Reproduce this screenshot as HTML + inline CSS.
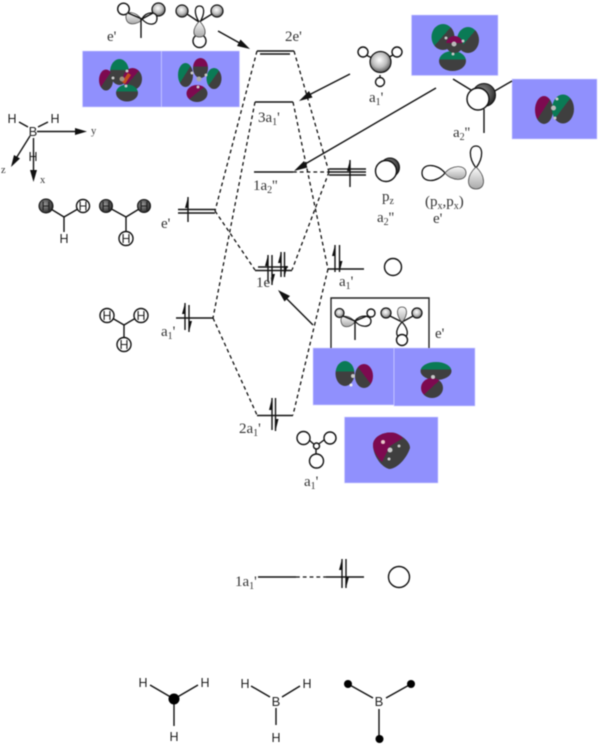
<!DOCTYPE html>
<html>
<head>
<meta charset="utf-8">
<style>
html,body{margin:0;padding:0;background:#fff;width:600px;height:746px;overflow:hidden}
svg{display:block;filter:blur(.4px)}
text{font-family:"Liberation Serif",serif;font-size:15px;fill:#333}
.s{font-family:"Liberation Sans",sans-serif;font-size:12.5px;fill:#222;text-anchor:middle}
.b{font-family:"Liberation Sans",sans-serif;font-size:13px;fill:#222;text-anchor:middle}
.a{font-size:10.500px}
.sub{font-size:10px}
line,path.l{stroke:#111;stroke-width:1.400;fill:none}
.d{stroke-dasharray:3.800 3;stroke-width:1.300}
.c{fill:#fff;stroke:#111;stroke-width:1.400}
.g{fill:url(#sph);stroke:#111;stroke-width:1.200}
.k{fill:url(#dk);stroke:#111;stroke-width:1}
.bx{fill:#9090fd;stroke:#d4d4ff;stroke-width:.6}
.lw{fill:#fff;stroke:#111;stroke-width:1.300}
.lg{fill:url(#lobe);stroke:#444;stroke-width:.8}
.at{fill:#c9c9c9}
</style>
</head>
<body>
<svg width="600" height="746" viewBox="0 0 600 746" xmlns="http://www.w3.org/2000/svg">
<defs>
<radialGradient id="sph" cx=".45" cy=".4" r=".65"><stop offset="0" stop-color="#fff"/><stop offset=".55" stop-color="#bbb"/><stop offset="1" stop-color="#444"/></radialGradient>
<radialGradient id="dk" cx=".4" cy=".4" r=".7"><stop offset="0" stop-color="#999"/><stop offset=".7" stop-color="#444"/><stop offset="1" stop-color="#111"/></radialGradient>
<linearGradient id="lobe" x1="0" y1="0" x2="0" y2="1"><stop offset="0" stop-color="#fbfbfb"/><stop offset="1" stop-color="#a8a8a8"/></linearGradient>
<linearGradient id="gT" x1="0" y1="0" x2="0" y2="1"><stop offset=".42" stop-color="#0a7a55"/><stop offset=".42" stop-color="#3f3f3f"/></linearGradient>
<linearGradient id="pT" x1="0" y1="0" x2="0" y2="1"><stop offset=".42" stop-color="#7d0a50"/><stop offset=".42" stop-color="#3f3f3f"/></linearGradient>
<linearGradient id="gTL" x1="0" y1="0" x2="1" y2="1"><stop offset=".48" stop-color="#0a7a55"/><stop offset=".48" stop-color="#3f3f3f"/></linearGradient>
<linearGradient id="pTL" x1="0" y1="0" x2="1" y2="1"><stop offset=".48" stop-color="#7d0a50"/><stop offset=".48" stop-color="#3f3f3f"/></linearGradient>
<linearGradient id="pTR" x1="1" y1="0" x2="0" y2="1"><stop offset=".48" stop-color="#7d0a50"/><stop offset=".48" stop-color="#3f3f3f"/></linearGradient>
</defs>

<!-- blue boxes -->
<rect class="bx" x="82.5" y="51" width="79" height="56"/>
<rect class="bx" x="161.5" y="51" width="78" height="56"/>
<rect class="bx" x="411.5" y="15" width="86.5" height="60.5"/>
<rect class="bx" x="512" y="79" width="85" height="60"/>
<rect class="bx" x="313" y="348" width="81" height="57"/>
<rect class="bx" x="394" y="348" width="81" height="58"/>
<rect class="bx" x="344.5" y="417" width="93.5" height="66"/>

<!-- box 1 lobes -->
<ellipse cx="119.500" cy="72" rx="9.500" ry="13" fill="url(#gT)"/>
<ellipse cx="106" cy="80" rx="7" ry="10.500" fill="url(#pTL)"/>
<ellipse cx="132.500" cy="79" rx="9.500" ry="11" fill="url(#pTL)"/>
<ellipse cx="127" cy="93" rx="11" ry="8.500" fill="url(#gT)"/>
<path d="M122 82l6-9 3 2-6 9z" fill="#c2501e"/>
<circle cx="113" cy="78" r="1.500" class="at"/><circle cx="127" cy="71" r="1.500" class="at"/><circle cx="126" cy="86" r="1.500" class="at"/><circle cx="122" cy="79" r="2.500" fill="#a09080"/>
<!-- box 2 lobes -->
<ellipse cx="200.500" cy="68" rx="7.500" ry="10" fill="url(#pT)"/>
<ellipse cx="185.500" cy="75" rx="7.500" ry="12" fill="url(#gTL)"/>
<ellipse cx="214" cy="78.500" rx="7.500" ry="10.500" fill="url(#gTL)"/>
<ellipse cx="197" cy="93.500" rx="10.500" ry="8.500" fill="url(#pTL)"/>
<circle cx="192" cy="73" r="1.500" class="at"/><circle cx="206" cy="75" r="1.500" class="at"/><circle cx="198" cy="87" r="1.500" class="at"/><circle cx="199" cy="79" r="2.500" fill="#aaa"/>
<!-- top right box lobes -->
<ellipse cx="443" cy="37" rx="11.500" ry="13" fill="url(#gTL)"/>
<ellipse cx="468" cy="40" rx="11" ry="13" fill="url(#gTL)"/>
<ellipse cx="452.500" cy="61" rx="13.500" ry="10" fill="url(#gT)"/>
<ellipse cx="454.500" cy="44.500" rx="8.500" ry="8.500" fill="url(#pT)"/>
<circle cx="446" cy="38" r="1.500" class="at"/><circle cx="463" cy="41" r="1.500" class="at"/><circle cx="453" cy="54" r="1.500" class="at"/><circle cx="454" cy="44" r="2.500" fill="#bbb"/>
<!-- right box lobes -->
<ellipse cx="544" cy="110" rx="9" ry="14" fill="url(#pTL)"/>
<ellipse cx="563" cy="109" rx="11" ry="14.500" fill="url(#gTL)"/>
<circle cx="553.500" cy="108" r="2.500" fill="#bbb"/><circle cx="555" cy="118" r="1.500" class="at"/><circle cx="557" cy="99" r="1.500" class="at"/>
<!-- box lower left -->
<ellipse cx="345" cy="373.500" rx="9.500" ry="12.500" fill="url(#gT)"/>
<ellipse cx="364" cy="376" rx="9" ry="12" fill="url(#pTR)"/>
<circle cx="353" cy="376" r="2" class="at"/><circle cx="351" cy="385" r="1.500" fill="#eee"/>
<!-- box lower right -->
<ellipse cx="436" cy="371" rx="15.500" ry="9" fill="url(#gT)"/>
<ellipse cx="432" cy="388" rx="11" ry="10" fill="url(#pTL)"/>
<circle cx="433" cy="377" r="2" class="at"/>
<!-- a1 box -->
<path d="M373 445C373 436 385 431 395 433C403 436 410 442 410 448C407 458 397 469 389 469C381 467 373 455 373 445Z" fill="#3f3f3f"/>
<path d="M373 445C373 436 385 431 395 433C398 434 401 436 403 438L390 446L382 462C376 456 373 450 373 445Z" fill="#7d0a50"/>
<circle cx="390" cy="450" r="2.500" class="at"/><circle cx="383" cy="442" r="2" fill="#e8c8c8"/><circle cx="389" cy="459" r="1.500" class="at"/><circle cx="399" cy="446" r="1.500" class="at"/>

<!-- dashed connections -->
<line class="d" x1="257" y1="51" x2="215" y2="211"/>
<line class="d" x1="255" y1="102" x2="213" y2="318"/>
<line class="d" x1="215" y1="211" x2="255" y2="270"/>
<line class="d" x1="213" y1="318" x2="257" y2="415"/>
<line class="d" x1="294" y1="51" x2="329" y2="172"/>
<line class="d" x1="293" y1="102" x2="328" y2="269"/>
<line class="d" x1="293" y1="172" x2="329" y2="172"/>
<line class="d" x1="329" y1="172" x2="292" y2="270"/>
<line class="d" x1="328" y1="269" x2="293" y2="415"/>
<line class="d" x1="296" y1="577" x2="326" y2="577"/>

<!-- levels -->
<line x1="257" y1="51" x2="294" y2="51"/><line x1="260" y1="54" x2="290" y2="54"/>
<line x1="255" y1="102" x2="293" y2="102"/>
<line x1="254" y1="172" x2="293" y2="172"/>
<line x1="329" y1="169" x2="366" y2="169"/><line x1="329" y1="172" x2="366" y2="172"/><line x1="329" y1="175" x2="366" y2="175"/>
<line x1="178" y1="209.500" x2="215" y2="209.500"/><line x1="178" y1="213" x2="215" y2="213"/>
<line x1="255" y1="270.500" x2="292" y2="270.500"/><line x1="258" y1="267" x2="288" y2="267"/>
<line x1="328" y1="269" x2="364" y2="269"/>
<line x1="176" y1="318" x2="213" y2="318"/>
<line x1="257" y1="415.500" x2="293" y2="415.500"/>
<line x1="258" y1="577" x2="296" y2="577"/><line x1="326" y1="577" x2="364" y2="577"/>

<!-- spin arrows -->
<g>
<line x1="188" y1="197" x2="188" y2="222"/><path d="M188 197l-3 11h3z" fill="#111"/>
<line x1="350" y1="160" x2="350" y2="187"/><path d="M350 160l-3 11h3z" fill="#111"/>
<line x1="268" y1="255" x2="268" y2="282"/><path d="M268 255l-3 11h3z" fill="#111"/>
<line x1="272" y1="255" x2="272" y2="285"/><path d="M272 285l3-11h-3z" fill="#111"/>
<line x1="281" y1="252" x2="281" y2="277"/><path d="M281 252l-3 11h3z" fill="#111"/>
<line x1="284.500" y1="252" x2="284.500" y2="277"/><path d="M284.500 277l3-11h-3z" fill="#111"/>
<line x1="185" y1="303" x2="185" y2="330"/><path d="M185 303l-3 11h3z" fill="#111"/>
<line x1="189" y1="305" x2="189" y2="332"/><path d="M189 332l3-11h-3z" fill="#111"/>
<line x1="272" y1="398" x2="272" y2="430"/><path d="M272 398l-3 12h3z" fill="#111"/>
<line x1="275.500" y1="398" x2="275.500" y2="431"/><path d="M275.500 431l3-12h-3z" fill="#111"/>
<line x1="335" y1="245" x2="335" y2="272"/><path d="M335 245l-3 11h3z" fill="#111"/>
<line x1="339.500" y1="245" x2="339.500" y2="272"/><path d="M339.500 272l3-11h-3z" fill="#111"/>
<line x1="342" y1="559" x2="342" y2="588"/><path d="M342 559l-3 11h3z" fill="#111"/>
<line x1="346" y1="559" x2="346" y2="588"/><path d="M346 588l3-11h-3z" fill="#111"/>
</g>

<!-- big arrows -->
<line x1="218" y1="31" x2="245" y2="46"/><path d="M250 49l-13-3 3.500-6.500z" fill="#111"/>
<line x1="350" y1="74" x2="305" y2="97"/><path d="M299 101l10-10 3.500 6.500z" fill="#111"/>
<line x1="436" y1="88" x2="300" y2="167"/><path d="M294 171l10-10 3.500 6.500z" fill="#111"/>
<line x1="313" y1="325" x2="283" y2="295"/><path d="M278 290l12 6-5.500 5.500z" fill="#111"/>

<!-- top-left orbitals -->
<circle class="c" cx="123.500" cy="9" r="5.800"/>
<circle class="g" cx="158.500" cy="9.500" r="6.500"/>
<path class="lw" d="M142 19C146 11 157 11 157 18C157 26 148 26 142 19Z"/>
<path class="lg" d="M142 20C136 11 125 10 126 18C127 26 136 25 142 20Z"/>
<line x1="128" y1="13" x2="142" y2="19"/><line x1="153" y1="13" x2="142" y2="19"/><line x1="141" y1="19" x2="141" y2="38"/>
<circle class="g" cx="182" cy="11" r="6"/><circle class="g" cx="217" cy="11" r="6"/>
<circle class="c" cx="199.500" cy="41" r="6.500"/>
<line x1="187" y1="14" x2="199" y2="22"/><line x1="212" y1="14" x2="199" y2="22"/>
<path class="lw" d="M199.500 23C193 12 195 6 199.500 6C204 6 206 12 199.500 23Z"/>
<path class="lg" d="M199.500 21C207 29 207 37 199.500 37C192 37 192 29 199.500 21Z"/>
<text x="107" y="41">e'</text>
<text x="285" y="41">2e'</text>

<!-- a1' top-right orbital -->
<line x1="366" y1="55" x2="380" y2="62"/><line x1="393" y1="55" x2="380" y2="62"/><line x1="380" y1="75" x2="380" y2="78"/>
<circle class="c" cx="363" cy="52" r="5"/><circle class="c" cx="397" cy="52" r="5"/><circle class="c" cx="380" cy="82" r="4.500"/>
<circle class="g" cx="380.500" cy="62" r="10.500"/>
<text x="369" y="102">a<tspan class="sub" dy="3">1</tspan><tspan dy="-3">'</tspan></text>

<!-- a2'' right orbital -->
<line x1="453" y1="79" x2="471" y2="90"/><line x1="512" y1="81" x2="493" y2="92"/><line x1="484" y1="109" x2="484" y2="133"/>
<circle cx="484" cy="95" r="11.500" fill="url(#dk)" stroke="#111"/>
<circle class="c" cx="478" cy="99" r="11"/>
<text x="453" y="137">a<tspan class="sub" dy="3">2</tspan><tspan dy="-3">''</tspan></text>

<!-- pz and px -->
<circle cx="390" cy="167.500" r="9.500" fill="url(#dk)" stroke="#111"/>
<circle class="c" cx="386" cy="171" r="10.500"/>
<path class="lw" d="M445 173C437 163 422 163 422 173C422 183 437 183 445 173Z"/>
<path class="lg" d="M445 173C451 165 466 164 466 173C466 182 451 181 445 173Z"/>
<path class="lw" d="M476 168C468 157 469 146 476 146C483 146 484 157 476 168Z"/>
<path class="lg" d="M476 167C486 176 486 189 476 189C466 189 466 176 476 167Z"/>
<text x="382" y="201">p<tspan class="sub" dy="3">z</tspan></text>
<text x="377" y="222">a<tspan class="sub" dy="3">2</tspan><tspan dy="-3">''</tspan></text>
<text x="425" y="206">(p<tspan class="sub" dy="3">x</tspan><tspan dy="-3">,p</tspan><tspan class="sub" dy="3">x</tspan><tspan dy="-3">)</tspan></text>
<text x="433" y="223">e'</text>

<!-- level labels -->
<text x="258" y="122">3a<tspan class="sub" dy="3">1</tspan><tspan dy="-3">'</tspan></text>
<text x="253" y="190">1a<tspan class="sub" dy="3">2</tspan><tspan dy="-3">''</tspan></text>
<text x="161" y="228">e'</text>
<text x="256" y="287">1e'</text>
<text x="161" y="336">a<tspan class="sub" dy="3">1</tspan><tspan dy="-3">'</tspan></text>
<text x="239" y="433">2a<tspan class="sub" dy="3">1</tspan><tspan dy="-3">'</tspan></text>
<text x="339" y="286">a<tspan class="sub" dy="3">1</tspan><tspan dy="-3">'</tspan></text>
<text x="235" y="586">1a<tspan class="sub" dy="3">1</tspan><tspan dy="-3">'</tspan></text>
<text x="304" y="486">a<tspan class="sub" dy="3">1</tspan><tspan dy="-3">'</tspan></text>
<text x="435" y="338">e'</text>

<!-- axes -->
<text class="b" x="33" y="136">B</text>
<text class="s" x="12" y="123">H</text>
<text class="s" x="55" y="123">H</text>
<text class="s" x="33" y="161">H</text>
<line x1="19" y1="122" x2="28" y2="127"/><line x1="48" y1="122" x2="38" y2="127"/>
<line x1="37" y1="131.500" x2="78" y2="131.500"/><path d="M87 131.500l-12-3.500v7z" fill="#111"/>
<line x1="33.500" y1="138" x2="33.500" y2="172"/><path d="M33.500 182l-3.500-12h7z" fill="#111"/>
<line x1="30" y1="136" x2="15" y2="160"/><path d="M11 167l3-12 6 3.500z" fill="#111"/>
<text class="a" x="91" y="134">y</text>
<text class="a" x="40" y="183">x</text>
<text class="a" x="1" y="173">z</text>

<!-- H orbital molecules -->
<line x1="46" y1="206" x2="64" y2="217"/><line x1="83" y1="206" x2="64" y2="217"/><line x1="64" y1="217" x2="64" y2="232"/>
<circle class="k" cx="46" cy="206" r="7"/><circle class="c" cx="83" cy="206" r="6.500"/>
<text class="s" x="46" y="210.500">H</text><text class="s" x="83" y="210.500">H</text><text class="s" x="64" y="243">H</text>
<line x1="106" y1="206" x2="126" y2="217"/><line x1="144" y1="206" x2="126" y2="217"/><line x1="126" y1="217" x2="126" y2="232"/>
<circle class="k" cx="106" cy="206" r="6.500"/><circle class="k" cx="144" cy="206" r="6.500"/><circle class="c" cx="126" cy="238.500" r="7"/>
<text class="s" x="106" y="210.500">H</text><text class="s" x="144" y="210.500">H</text><text class="s" x="126" y="243">H</text>
<line x1="107" y1="315" x2="124" y2="325"/><line x1="141" y1="315" x2="124" y2="325"/><line x1="124" y1="325" x2="124" y2="344"/>
<circle class="c" cx="107" cy="315.500" r="7"/><circle class="c" cx="141" cy="315.500" r="7"/><circle class="c" cx="124" cy="344.500" r="7"/>
<text class="s" x="107" y="320">H</text><text class="s" x="141" y="320">H</text><text class="s" x="124" y="349">H</text>

<!-- free circles -->
<circle class="c" cx="393" cy="267" r="8.500"/>
<circle class="c" cx="399" cy="577" r="10.500"/>

<!-- boxed e' orbitals -->
<path d="M331 348V298H429V348" fill="none" stroke="#222" stroke-width="1.400"/>
<circle class="g" cx="339.500" cy="313" r="4.500"/><circle class="c" cx="371" cy="313" r="4"/>
<path class="lw" d="M355 321C360 314 371 315 371 321C371 328 360 328 355 321Z"/>
<path class="lg" d="M355 322C350 315 340 314 341 321C342 329 350 328 355 322Z"/>
<line x1="343" y1="316" x2="355" y2="321"/><line x1="367" y1="316" x2="355" y2="321"/><line x1="355" y1="321" x2="355" y2="340"/>
<circle class="g" cx="386" cy="313" r="5"/><circle class="g" cx="417" cy="313" r="5"/>
<line x1="390" y1="316" x2="402" y2="322"/><line x1="413" y1="316" x2="402" y2="322"/>
<path class="lg" d="M402 323C395 313 397 307 402 307C407 307 409 313 402 323Z"/>
<path class="lw" d="M402 322C410 331 408 338 402 338C396 338 394 331 402 322Z"/>
<circle class="c" cx="402" cy="340" r="5.500"/>

<!-- lower a1' -->
<line x1="309" y1="440" x2="316" y2="446"/><line x1="324" y1="440" x2="316" y2="446"/><line x1="316" y1="449" x2="316" y2="454"/>
<circle class="c" cx="303.500" cy="438" r="6.500"/><circle class="c" cx="330" cy="438" r="6"/><circle class="c" cx="316.500" cy="461" r="7"/><circle class="c" cx="316.500" cy="446" r="3"/>

<!-- bottom molecules -->
<line x1="150" y1="685" x2="174" y2="699"/><line x1="198" y1="685" x2="174" y2="699"/><line x1="174" y1="699" x2="174" y2="726"/>
<circle cx="174" cy="699" r="5.500" fill="#000"/>
<text class="s" x="143" y="687">H</text><text class="s" x="205" y="687">H</text><text class="s" x="174" y="741">H</text>
<line x1="251" y1="686" x2="270" y2="697"/><line x1="300" y1="686" x2="282" y2="697"/><line x1="276" y1="708" x2="276" y2="725"/>
<text class="s" x="245" y="688">H</text><text class="s" x="307" y="688">H</text><text class="b" x="276" y="706">B</text><text class="s" x="276" y="742">H</text>
<line x1="348" y1="684" x2="373" y2="698"/><line x1="411" y1="684" x2="386" y2="698"/><line x1="379" y1="709" x2="379" y2="739"/>
<circle cx="348" cy="684" r="4" fill="#000"/><circle cx="411" cy="684" r="4" fill="#000"/><circle cx="379.500" cy="739" r="4" fill="#000"/>
<text class="b" x="379" y="706">B</text>
</svg>
</body>
</html>
